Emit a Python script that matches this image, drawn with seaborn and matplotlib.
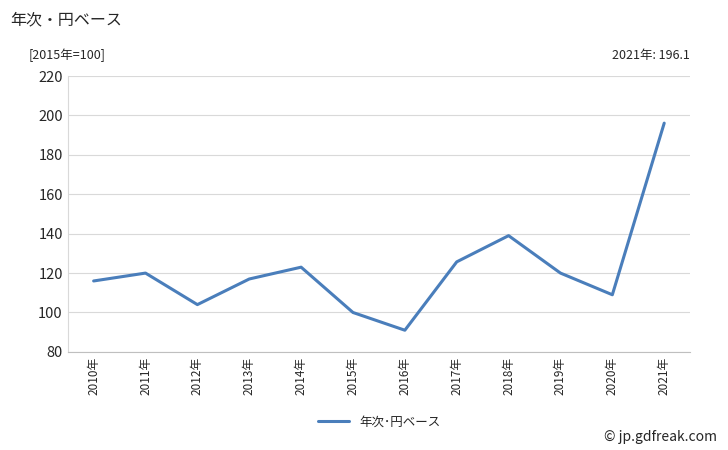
import pandas as pd
import matplotlib.pyplot as plt
import seaborn as sns

years = ["2010年", "2011年", "2012年", "2013年", "2014年", "2015年",
         "2016年", "2017年", "2018年", "2019年", "2020年", "2021年"]
values = [116, 120, 104, 117, 123, 100, 91, 125.7, 139, 120, 109, 196.1]
series_name = "年次･円ベース"

sns.set_style("white")
plt.rcParams["font.family"] = "sans-serif"
plt.rcParams["font.sans-serif"] = ["Noto Sans CJK JP", "DejaVu Sans"]

df = pd.DataFrame({"year": years, "value": values})

fig = plt.figure(figsize=(7.28, 4.5), dpi=100)
ax = fig.add_axes([0.093, 0.218, 0.855, 0.613])
sns.lineplot(data=df, x="year", y="value", color="#4a7ebb", linewidth=2.2,
             label=series_name, ax=ax, sort=False)

ax.set_ylim(80, 220)
ax.set_yticks(range(80, 221, 20))
ax.set_xlim(-0.5, len(years) - 0.5)
ax.yaxis.grid(True, color="#d9d9d9", linewidth=0.8)
ax.set_axisbelow(True)
for s in ["top", "right"]:
    ax.spines[s].set_visible(False)
ax.spines["left"].set_color("#d9d9d9")
ax.spines["bottom"].set_color("#bfbfbf")
ax.set_xlabel("")
ax.set_ylabel("")
ax.tick_params(axis="x", rotation=90, labelsize=8.5, length=0)
ax.tick_params(axis="y", labelsize=10.5, length=0)

ax.legend(loc="upper center", bbox_to_anchor=(0.5, -0.19), frameon=False,
          fontsize=9, handlelength=2.5)

fig.text(0.014, 0.955, "年次・円ベース", fontsize=11.5, va="center")
fig.text(0.04, 0.877, "[2015年=100]", fontsize=9, va="center")
fig.text(0.948, 0.877, "2021年: 196.1", fontsize=9, va="center", ha="right")
fig.text(0.985, 0.03, "© jp.gdfreak.com", fontsize=10, va="center", ha="right")

fig.savefig("out.png", dpi=100)
